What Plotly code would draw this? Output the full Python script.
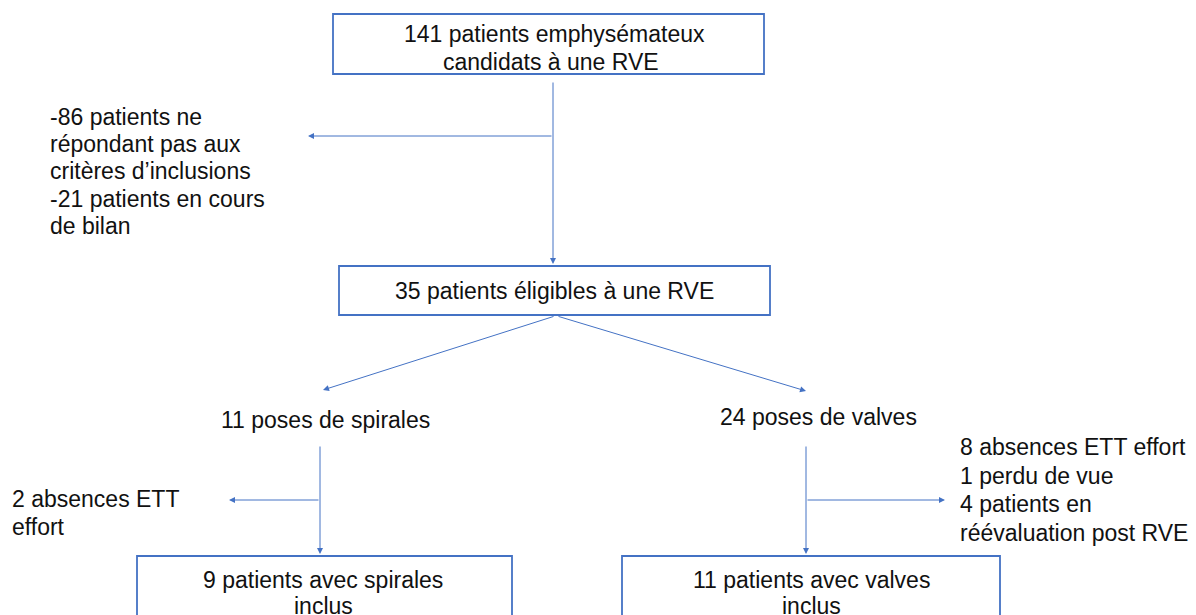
import plotly.graph_objects as go

W, H = 1196, 615
OFF = 8  # page body margin offset
FONT = "Liberation Sans, Arial, sans-serif"
BLUE = "#4472C4"

# Boxes: (x0, y0, x1, y1) in pixel coords
box_x0 = [333, 339, 137, 622]
box_y0 = [14, 266, 556, 556]
box_x1 = [764, 770, 512, 1000]
box_y1 = [74, 315, 640, 640]

# Text lines
text_lines = [
    "141 patients emphysémateux", "candidats à une RVE",
    "-86 patients ne", "répondant pas aux", "critères d’inclusions",
    "-21 patients en cours", "de bilan",
    "35 patients éligibles à une RVE",
    "11 poses de spirales", "24 poses de valves",
    "2 absences ETT", "effort",
    "8 absences ETT effort", "1 perdu de vue", "4 patients en",
    "réévaluation post RVE",
    "9 patients avec spirales", "inclus",
    "11 patients avec valves", "inclus",
]
text_x = [554, 551, 48, 48, 48, 48, 48, 554, 325, 818, 10, 10,
          958, 958, 958, 958, 323, 323, 811, 811]
text_y = [34, 62, 117, 144, 171, 199, 226, 291, 420, 417, 499, 527,
          447, 476, 504, 533, 580, 606, 580, 606]
text_anchor = ["center", "center", "left", "left", "left", "left", "left",
               "center", "center", "center", "left", "left",
               "left", "left", "left", "left",
               "center", "center", "center", "center"]

# Arrows: start (tail) -> end (head)
arrow_x0 = [553, 553, 555, 557, 320, 320, 806, 806]
arrow_y0 = [81, 136, 316, 316, 445, 500, 445, 500]
arrow_x1 = [553, 308, 323, 806, 320, 229, 806, 945]
arrow_y1 = [264, 136, 390, 391, 554, 500, 554, 500]

fig = go.Figure()

shapes = []
for x0, y0, x1, y1 in zip(box_x0, box_y0, box_x1, box_y1):
    shapes.append(dict(type="rect", xref="x", yref="y", x0=x0, y0=y0, x1=x1, y1=y1,
                       line=dict(color=BLUE, width=1.8), fillcolor="white", layer="below"))

annotations = []
for t, x, y, a in zip(text_lines, text_x, text_y, text_anchor):
    annotations.append(dict(x=x, y=y, xref="x", yref="y", text=t, showarrow=False,
                            xanchor=a, yanchor="middle",
                            font=dict(family=FONT, size=23, color="#111111")))
for x0, y0, x1, y1 in zip(arrow_x0, arrow_y0, arrow_x1, arrow_y1):
    annotations.append(dict(x=x1, y=y1, ax=x0, ay=y0, xref="x", yref="y",
                            axref="x", ayref="y", text="", showarrow=True,
                            arrowhead=2, arrowsize=1.2, arrowwidth=1,
                            arrowcolor=BLUE, standoff=0, startstandoff=0))

fig.update_layout(
    width=W, height=H,
    margin=dict(l=0, r=0, t=0, b=0),
    paper_bgcolor="white", plot_bgcolor="white",
    xaxis=dict(range=[OFF, W + OFF], visible=False, fixedrange=True),
    yaxis=dict(range=[H + OFF, OFF], visible=False, fixedrange=True),
    shapes=shapes, annotations=annotations, showlegend=False,
)

fig.write_html("out.html")
